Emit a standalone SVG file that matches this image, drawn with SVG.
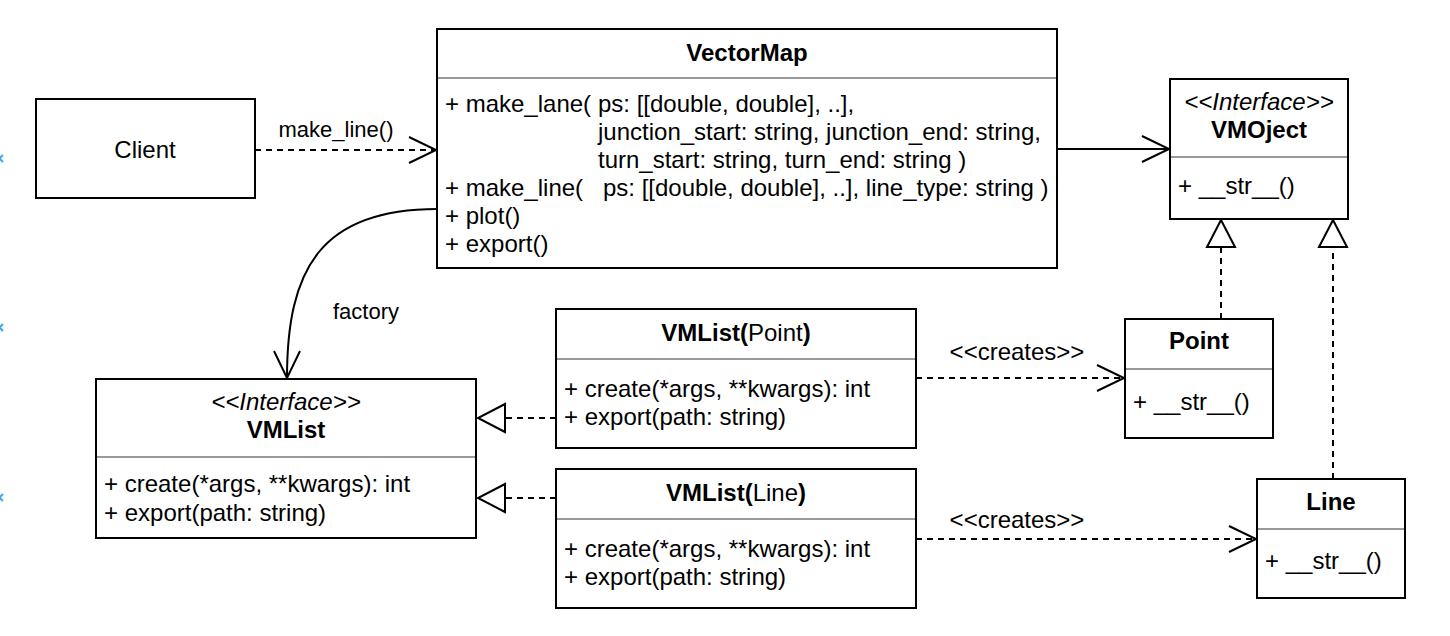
<svg xmlns="http://www.w3.org/2000/svg" width="1450" height="636" viewBox="0 0 1450 636">
<style>
  text { font-family: "Liberation Sans", Arial, Helvetica, sans-serif; font-size: 24px; fill: #000; }
  .box { fill: #fff; stroke: #000; stroke-width: 2; }
  .sep { stroke: #999; stroke-width: 2; fill: none; }
  .b { font-weight: bold; }
  .it { font-style: italic; }
  .c { text-anchor: middle; }
  .lbl { font-size: 22px; }
  .edge { fill: none; stroke: #000; stroke-width: 2; }
  .dash { stroke-dasharray: 6 5; }
  .hint { stroke: #3aa9e8; stroke-width: 2; fill: none; }
</style>
<defs>
  <marker id="open" markerUnits="userSpaceOnUse" markerWidth="32" markerHeight="32" viewBox="-2 -2 32 32" refX="27" refY="13" orient="auto" overflow="visible">
    <path d="M0,0 L27,13 L0,26" fill="none" stroke="#000" stroke-width="2" stroke-dasharray="none"/>
  </marker>
  <marker id="tri" markerUnits="userSpaceOnUse" markerWidth="32" markerHeight="32" viewBox="-2 -2 32 32" refX="27" refY="14" orient="auto" overflow="visible">
    <path d="M0,0 L27,14 L0,28 Z" fill="#fff" stroke="#000" stroke-width="2" stroke-dasharray="none"/>
  </marker>
</defs>
<rect width="1450" height="636" fill="#fff"/>

<g id="hints">
  <path class="hint" d="M-4,155 L3,162 M-4,162 L3,155"/>
  <path class="hint" d="M-4,324 L3,331 M-4,331 L3,324"/>
  <path class="hint" d="M-4,494 L3,501 M-4,501 L3,494"/>
</g>

<g id="connectors">
  <path class="edge dash" d="M255,150 L436,150" marker-end="url(#open)"/>
  <text class="lbl c" x="336" y="137">make_line()</text>
  <path class="edge" d="M1057,149 L1169,149" marker-end="url(#open)"/>
  <path class="edge" d="M437,209 C320,209 287,270 287,378" marker-end="url(#open)"/>
  <text class="lbl c" x="366" y="319">factory</text>
  <path class="edge dash" d="M556,418 L478,418" marker-end="url(#tri)"/>
  <path class="edge dash" d="M556,498 L478,498" marker-end="url(#tri)"/>
  <path class="edge dash" d="M916,378 L1124,378" marker-end="url(#open)"/>
  <text class="c" x="1017" y="360">&lt;&lt;creates&gt;&gt;</text>
  <path class="edge dash" d="M916,539 L1256,539" marker-end="url(#open)"/>
  <text class="c" x="1017" y="528">&lt;&lt;creates&gt;&gt;</text>
  <path class="edge dash" d="M1221,319 L1221,220" marker-end="url(#tri)"/>
  <path class="edge dash" d="M1333,479 L1333,220" marker-end="url(#tri)"/>
</g>

<g id="client">
  <rect class="box" x="36" y="99" width="219" height="99"/>
  <text class="c" x="145" y="158">Client</text>
</g>

<g id="vectormap">
  <rect class="box" x="437" y="29" width="620" height="239"/>
  <text class="b c" x="747" y="61">VectorMap</text>
  <line class="sep" x1="438" y1="78" x2="1056" y2="78"/>
  <text x="445" y="112">+ make_lane(</text>
  <text x="598" y="112">ps: [[double, double], ..],</text>
  <text x="598" y="140">junction_start: string, junction_end: string,</text>
  <text x="598" y="168">turn_start: string, turn_end: string )</text>
  <text x="445" y="196">+ make_line(</text>
  <text x="603" y="196">ps: [[double, double], ..], line_type: string )</text>
  <text x="445" y="224">+ plot()</text>
  <text x="445" y="252">+ export()</text>
</g>

<g id="vmobject">
  <rect class="box" x="1170" y="79" width="178" height="140"/>
  <text class="it c" x="1259" y="110">&lt;&lt;Interface&gt;&gt;</text>
  <text class="b c" x="1259" y="138">VMOject</text>
  <line class="sep" x1="1171" y1="157" x2="1347" y2="157"/>
  <text x="1178" y="194">+ __str__()</text>
</g>

<g id="point">
  <rect class="box" x="1125" y="319" width="148" height="119"/>
  <text class="b c" x="1199" y="349">Point</text>
  <line class="sep" x1="1126" y1="369" x2="1272" y2="369"/>
  <text x="1133" y="410">+ __str__()</text>
</g>

<g id="line">
  <rect class="box" x="1257" y="479" width="148" height="119"/>
  <text class="b c" x="1331" y="510">Line</text>
  <line class="sep" x1="1258" y1="529" x2="1404" y2="529"/>
  <text x="1265" y="569">+ __str__()</text>
</g>

<g id="vmlist">
  <rect class="box" x="96" y="379" width="380" height="159"/>
  <text class="it c" x="286" y="410">&lt;&lt;Interface&gt;&gt;</text>
  <text class="b c" x="286" y="438">VMList</text>
  <line class="sep" x1="97" y1="457" x2="475" y2="457"/>
  <text x="104" y="492">+ create(*args, **kwargs): int</text>
  <text x="104" y="521">+ export(path: string)</text>
</g>

<g id="vmlist-point">
  <rect class="box" x="556" y="309" width="360" height="139"/>
  <text class="c" x="736" y="341"><tspan class="b">VMList(</tspan>Point<tspan class="b">)</tspan></text>
  <line class="sep" x1="557" y1="359" x2="915" y2="359"/>
  <text x="564" y="397">+ create(*args, **kwargs): int</text>
  <text x="564" y="425">+ export(path: string)</text>
</g>

<g id="vmlist-line">
  <rect class="box" x="556" y="469" width="360" height="139"/>
  <text class="c" x="736" y="501"><tspan class="b">VMList(</tspan>Line<tspan class="b">)</tspan></text>
  <line class="sep" x1="557" y1="519" x2="915" y2="519"/>
  <text x="564" y="557">+ create(*args, **kwargs): int</text>
  <text x="564" y="585">+ export(path: string)</text>
</g>
</svg>
